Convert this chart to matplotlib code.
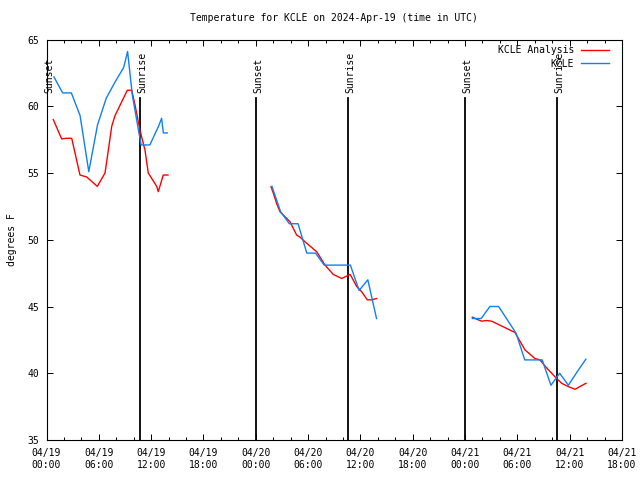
import datetime as dt
import matplotlib
matplotlib.use("Agg")
import matplotlib.pyplot as plt
import matplotlib.dates as mdates

base = dt.datetime(2024, 4, 19)

# KCLE Analysis (red), hours after 04/19 00:00 UTC
ana_hours = [
    [0.78, 1.74, 2.24, 2.89, 3.84, 4.61, 5.83, 6.71, 7.09, 7.48, 7.86, 9.27, 9.77,
     10.15, 10.72, 11.3, 11.67, 12.64, 12.82, 13.39, 13.93],
    [25.75, 26.01, 26.4, 26.78, 27.16, 27.92, 28.69, 29.07, 29.64, 30.99, 31.94,
     32.89, 33.85, 34.81, 35.0, 35.57, 36.15, 36.79, 37.29, 37.87],
    [48.83, 49.52, 49.91, 50.48, 51.06, 52.0, 52.96, 53.73, 54.3, 54.87, 56.02,
     56.59, 57.36, 58.51, 59.08, 59.84, 60.61, 61.87],
]
ana_temp = [
    [59.0, 57.55, 57.6, 57.6, 54.85, 54.7, 54.0, 55.0, 56.7, 58.5, 59.3, 61.2, 61.2,
     60.1, 58.2, 56.7, 55.0, 54.0, 53.6, 54.85, 54.85],
    [53.97, 53.5, 52.7, 52.1, 51.85, 51.35, 50.35, 50.2, 49.85, 49.1, 48.1,
     47.4, 47.1, 47.4, 47.2, 46.5, 46.1, 45.5, 45.5, 45.6],
    [44.2, 44.0, 43.9, 43.95, 43.9, 43.6, 43.3, 43.05, 42.4, 41.75, 41.1,
     41.0, 40.4, 39.6, 39.25, 39.0, 38.8, 39.25],
]

# KCLE observations (blue)
obs_hours = [
    [0.85, 1.85, 2.85, 3.85, 4.85, 5.85, 6.85, 7.85, 8.85, 9.3, 9.85, 10.85,
     11.85, 12.85, 13.2, 13.4, 13.85],
    [25.85, 26.85, 27.85, 28.85, 29.85, 30.85, 31.85, 32.85, 33.85, 34.85,
     35.85, 36.85, 37.85],
    [48.85, 49.85, 50.85, 51.85, 52.85, 53.85, 54.85, 55.85, 56.85, 57.85,
     58.85, 59.85, 60.85, 61.85],
]
obs_temp = [
    [62.2, 61.0, 61.0, 59.3, 55.1, 58.6, 60.6, 61.8, 62.9, 64.1, 60.8, 57.1,
     57.1, 58.5, 59.1, 58.0, 58.0],
    [54.0, 52.1, 51.2, 51.2, 49.0, 49.0, 48.1, 48.1, 48.1, 48.1, 46.2, 47.0, 44.1],
    [44.1, 44.1, 45.0, 45.0, 44.0, 43.0, 41.0, 41.0, 41.0, 39.1, 40.0, 39.1,
     40.1, 41.05],
]

sun_hours = [0.06, 10.7, 24.05, 34.6, 48.0, 58.6]
sun_names = ["Sunset", "Sunrise", "Sunset", "Sunrise", "Sunset", "Sunrise"]


def to_dt(hours):
    return [base + dt.timedelta(hours=h) for h in hours]


plt.rcParams['font.family'] = ['DejaVu Sans Mono']
plt.rcParams['font.size'] = 7

fig = plt.figure(figsize=(6.4, 4.8), dpi=100)
ax = fig.add_axes([46.5 / 640, 1 - 440 / 480, (622 - 46.5) / 640, (440 - 39.5) / 480])

for h, name in zip(sun_hours, sun_names):
    t = base + dt.timedelta(hours=h)
    ax.plot([t, t], [35, 60.6], color='black', lw=1.3, zorder=2)
    ax.text(base + dt.timedelta(hours=h + 0.25), 61.0, name, rotation=90,
            ha='center', va='bottom', fontsize=7)

for i in range(3):
    ax.plot(to_dt(ana_hours[i]), ana_temp[i], color='#ff0000', lw=1.0, zorder=3,
            label='KCLE Analysis' if i == 0 else None)
for i in range(3):
    ax.plot(to_dt(obs_hours[i]), obs_temp[i], color='#1080f0', lw=1.0, zorder=3,
            label='KCLE' if i == 0 else None)

ax.set_xlim(base, base + dt.timedelta(hours=66))
ax.set_ylim(35, 65)
ax.set_yticks(range(35, 66, 5))
ax.xaxis.set_major_locator(mdates.HourLocator(byhour=[0, 6, 12, 18]))
ax.xaxis.set_minor_locator(mdates.HourLocator(byhour=range(0, 24, 2)))
ax.xaxis.set_major_formatter(mdates.DateFormatter('%m/%d\n%H:%M'))
ax.tick_params(which='both', direction='in', top=True, right=True, width=0.7)
ax.tick_params(which='major', length=4.5, pad=6)
ax.tick_params(axis='y', which='major', pad=5)
ax.tick_params(which='minor', length=2.5)
for s in ax.spines.values():
    s.set_linewidth(0.8)

ax.set_title('Temperature for KCLE on 2024-Apr-19 (time in UTC)', fontsize=7, pad=13)
ax.set_ylabel('degrees F', labelpad=8)

leg = ax.legend(loc='upper right', bbox_to_anchor=(0.988, 1.0),
                markerfirst=False, frameon=False, fontsize=7,
                handlelength=2.9, handletextpad=0.7, labelspacing=0.35,
                borderaxespad=0.2, borderpad=0.4)

fig.savefig('out.png', dpi=100)
